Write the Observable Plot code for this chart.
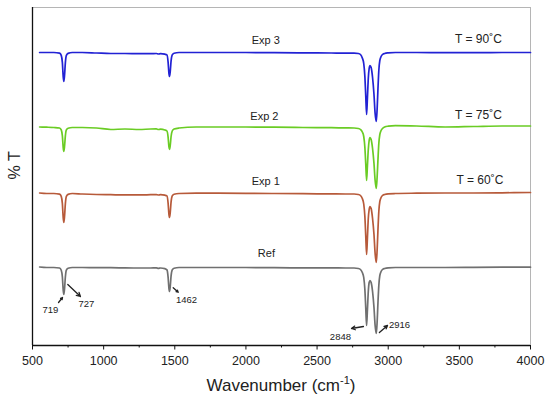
<!DOCTYPE html>
<html><head><meta charset="utf-8">
<script src="https://cdn.jsdelivr.net/npm/d3@7"></script>
<script src="https://cdn.jsdelivr.net/npm/@observablehq/plot@0.6"></script>
<style>body{margin:0;background:#fff} svg{display:block}</style>
</head><body><div id="chart"></div>
<script>
// Wavenumber grid (cm-1) shared by all spectra
const wavenumber = [
  550, 600, 650, 690, 702, 710, 716, 720, 725, 731, 738, 750, 780,
  850, 950, 1050, 1150, 1250, 1330, 1370, 1385, 1400, 1430, 1445, 1453, 1459, 1463, 1468, 1474, 1482, 1495, 1530,
  1650, 1800, 2000, 2200, 2400, 2600, 2700,
  2760, 2790, 2805, 2818, 2828, 2836, 2842, 2848, 2854, 2860, 2866, 2872, 2880, 2890, 2900, 2908, 2916, 2922, 2928, 2934, 2941, 2950, 2960, 2975, 3000, 3050,
  3200, 3400, 3600, 3800, 4000
];
// %T (offset, arbitrary units)
const refT = [
  78.5, 78, 78, 77.5, 75.3, 68.5, 55, 51, 56.4, 68.5, 75.3, 77.2, 78,
  78, 77.8, 77.8, 77.6, 77.5, 77.5, 77.6, 77.2, 77.5, 76.9, 75.6, 68.4, 56.9, 54, 58.8, 69.6, 75.6, 77.3, 78,
  78, 78, 78, 77.8, 77.6, 77.6, 77.5,
  77.5, 77, 76, 73, 68, 56, 38, 20, 36, 54, 63, 65, 63, 54, 38, 20, 12, 23, 43, 60, 70, 74, 76, 77, 77.7, 78,
  78, 78, 78.2, 78.3, 78.3
];
const exp1T = [
  152.5, 152, 152, 151.4, 149.1, 141.9, 127.4, 123, 128.8, 141.9, 149.1, 151.1, 152,
  151.5, 151, 150.8, 150.6, 150.6, 150.8, 150.9, 150.5, 150.8, 150.3, 149.6, 142.4, 130.9, 128, 132.8, 143.6, 149.6, 151.3, 152,
  152.3, 152.3, 152.2, 152, 151.8, 151.6, 151.5,
  151.5, 151, 150, 147, 141.5, 129, 110, 91, 108, 127, 136, 139, 137, 127, 111, 92, 83, 95, 116, 134, 144, 148, 150, 151, 151.7, 152,
  152.3, 152.5, 152.5, 152.7, 153
];
const exp2T = [
  218.5, 218.3, 218, 217.5, 215.6, 209.6, 197.6, 194, 198.8, 209.6, 215.6, 217.3, 218,
  218, 217.5, 216, 216.5, 216, 216.5, 216.6, 216, 216.3, 215.5, 214.5, 208.4, 198.5, 196, 200, 209, 214.5, 216.5, 217.5,
  218.5, 218.5, 218.5, 218.3, 218, 217.8, 217.6,
  217.5, 217, 216, 213.5, 209, 198, 182, 165, 180, 196, 205, 208, 206, 197, 182, 165, 157, 168, 186, 202, 211, 215, 217, 218.5, 219.3, 219.8,
  219.5, 218.5, 219, 219.5, 219.5
];
const exp3T = [
  293, 293, 293, 292.4, 290.1, 282.9, 268.4, 264, 269.8, 282.9, 290.1, 292.1, 293,
  293, 292.5, 292, 292, 291.8, 291.8, 292, 291.5, 291.8, 291.3, 290.6, 283.4, 271.9, 269, 273.8, 284.6, 290.6, 292.3, 293,
  293, 293, 293, 292.8, 292.6, 292.5, 292.4,
  292.4, 292, 291, 287.5, 282, 269, 250, 231, 248, 267, 277, 280, 278, 268, 251, 232, 224, 236, 257, 275, 285, 289, 291, 292, 292.6, 293,
  293, 292.8, 292.8, 293, 293
];
const seriesNames = ["Ref", "Exp 1", "Exp 2", "Exp 3"];
const seriesColors = ["#707070", "#b75a3a", "#6acc24", "#2222d4"];
const seriesValues = [refT, exp1T, exp2T, exp3T];
// series label anchors (wavenumber, %T)
const seriesLabelWn = [2144, 2140, 2130, 2140];
const seriesLabelT = [92, 164, 229, 305];
// temperature labels
const tempLabels = ["T = 60˚C", "T = 75˚C", "T = 90˚C"];
const tempLabelWn = [3645, 3634, 3634];
const tempLabelT = [165, 230, 306];
// peak annotations
const peakLabels = ["719", "727", "1462", "2848", "2916"];
const peakLabelWn = [626, 879, 1582, 2664, 3079];
const peakLabelT = [36, 42, 46, 9, 21];
const arrowX1 = [683, 748, 1489, 2826, 2938];
const arrowY1 = [43, 61, 57.7, 19, 13];
const arrowX2 = [711, 837, 1524, 2742, 2995];
const arrowY2 = [48, 49, 53.3, 17, 20];
// axis ticks
const xTicks = [500, 1000, 1500, 2000, 2500, 3000, 3500, 4000];
const xMinorTicks = [750, 1250, 1750, 2250, 2750, 3250, 3750];

const rows = [];
seriesNames.forEach((name, s) => wavenumber.forEach((w, i) => rows.push({wn: w, t: seriesValues[s][i], name})));
const seriesLabels = seriesNames.map((name, i) => ({name, wn: seriesLabelWn[i], t: seriesLabelT[i]}));
const temps = tempLabels.map((text, i) => ({text, wn: tempLabelWn[i], t: tempLabelT[i]}));
const peaks = peakLabels.map((text, i) => ({text, wn: peakLabelWn[i], t: peakLabelT[i],
  x1: arrowX1[i], y1: arrowY1[i], x2: arrowX2[i], y2: arrowY2[i]}));

const chart = Plot.plot({
  width: 550, height: 399,
  marginLeft: 32, marginRight: 20, marginTop: 7, marginBottom: 54,
  style: {fontFamily: "'Liberation Sans', Arial, sans-serif", background: "#fff", color: "#222"},
  x: {domain: [500, 4000]},
  y: {domain: [0, 338], axis: null},
  color: {domain: seriesNames, range: seriesColors},
  marks: [
    Plot.frame({stroke: "#b5b5b5"}),
    Plot.line(rows, {x: "wn", y: "t", z: "name", stroke: "name", strokeWidth: 1.7, curve: "monotone-x"}),
    Plot.ruleX([500], {stroke: "#111", strokeWidth: 1.3}),
    Plot.ruleY([0], {stroke: "#111", strokeWidth: 1.3}),
    Plot.axisX({ticks: xTicks, tickSize: 4.5, tickPadding: 6, fontSize: 12.5, tickFormat: d => String(d), label: null, stroke: "#111"}),
    Plot.axisX({ticks: xMinorTicks, tickSize: 2.5, tickFormat: () => "", label: null, stroke: "#111"}),
    Plot.text(seriesLabels, {x: "wn", y: "t", text: "name", fontSize: 11, fill: "#222"}),
    Plot.text(temps, {x: "wn", y: "t", text: "text", fontSize: 12, fill: "#222"}),
    Plot.arrow(peaks, {x1: "x1", y1: "y1", x2: "x2", y2: "y2", stroke: "#222", strokeWidth: 1.3, headLength: 5, headAngle: 55}),
    Plot.text(peaks, {x: "wn", y: "t", text: "text", fontSize: 9.5, fill: "#222"}),
    Plot.text(["% T"], {frameAnchor: "left", dx: -18, dy: 3, rotate: -90, fontSize: 16, fill: "#222"})
  ]
});
document.getElementById("chart").appendChild(chart);

// axis title with superscript
const svg = d3.select(chart);
const title = svg.append("text")
  .attr("x", 281).attr("y", 391)
  .attr("text-anchor", "middle")
  .attr("font-family", "'Liberation Sans', Arial, sans-serif")
  .attr("font-size", 17).attr("fill", "#222");
title.append("tspan").text("Wavenumber (cm");
title.append("tspan").attr("font-size", 11).attr("dy", -7).text("-1");
title.append("tspan").attr("dy", 7).text(")");
</script>
</body></html>
